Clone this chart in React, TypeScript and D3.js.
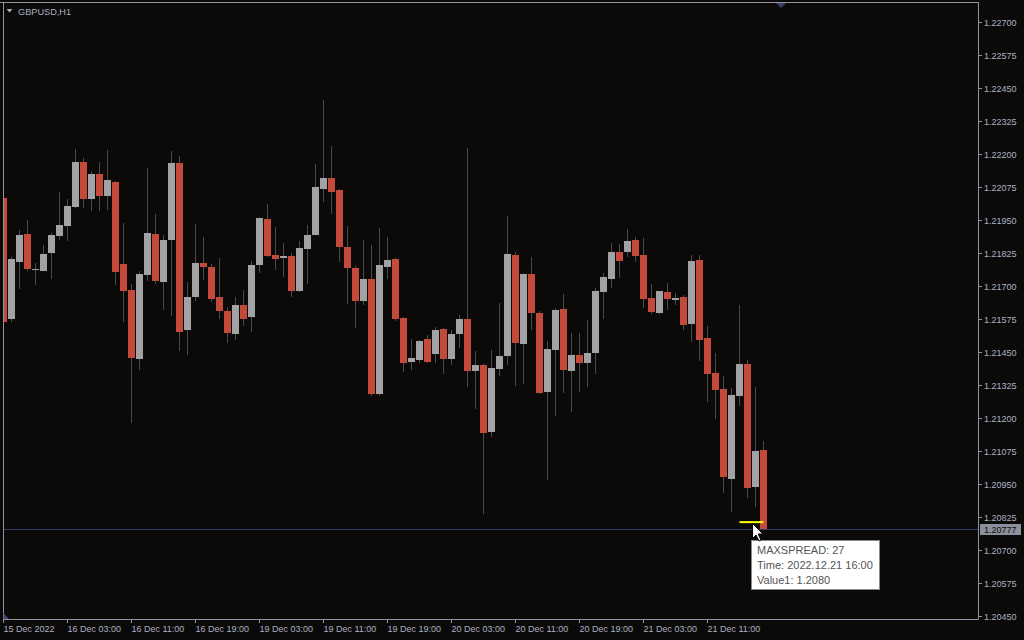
import React, { useEffect, useRef } from 'react';
import * as d3 from 'd3';

// GBPUSD H1 candles (oldest first)
const opens = [
  1.22035, 1.21576, 1.21793, 1.21899, 1.21765, 1.21759, 1.21828, 1.21892, 1.21930, 1.22002,
  1.22172, 1.22033, 1.22126, 1.22044, 1.22096, 1.21785, 1.21686, 1.21426, 1.21744, 1.21899,
  1.21718, 1.21877, 1.22168, 1.21536, 1.21661, 1.21789, 1.21773, 1.21660, 1.21607, 1.21519,
  1.21629, 1.21584, 1.21781, 1.21956, 1.21819, 1.21806, 1.21815, 1.21682, 1.21842, 1.21895,
  1.22069, 1.22111, 1.22066, 1.21849, 1.21770, 1.21645, 1.21728, 1.21292, 1.21773, 1.21804,
  1.21580, 1.21413, 1.21421, 1.21501, 1.21444, 1.21539, 1.21425, 1.21519, 1.21576, 1.21379,
  1.21402, 1.21148, 1.21386, 1.21436, 1.21819, 1.21482, 1.21747, 1.21599, 1.21300, 1.21459,
  1.21614, 1.21379, 1.21440, 1.21409, 1.21447, 1.21679, 1.21728, 1.21830, 1.21830, 1.21876,
  1.21819, 1.21656, 1.21599, 1.21679, 1.21648, 1.21660, 1.21557, 1.21800, 1.21504, 1.21372,
  1.21311, 1.20970, 1.21284, 1.21406, 1.20939, 1.21079,
];
const highs = [
  1.22088, 1.21813, 1.21914, 1.21952, 1.21789, 1.21856, 1.21901, 1.22058, 1.22030, 1.22221,
  1.22187, 1.22136, 1.22172, 1.22217, 1.22100, 1.21940, 1.21709, 1.21758, 1.22149, 1.21975,
  1.21895, 1.22213, 1.22195, 1.21717, 1.21937, 1.21887, 1.21785, 1.21808, 1.21622, 1.21660,
  1.21686, 1.21796, 1.21963, 1.22012, 1.21925, 1.21865, 1.21827, 1.21872, 1.21933, 1.22164,
  1.22407, 1.22232, 1.22068, 1.21929, 1.21777, 1.21876, 1.21857, 1.21921, 1.21887, 1.21808,
  1.21584, 1.21501, 1.21497, 1.21516, 1.21546, 1.21541, 1.21535, 1.21591, 1.22225, 1.21455,
  1.21404, 1.21459, 1.21637, 1.21967, 1.21830, 1.21751, 1.21811, 1.21607, 1.21493, 1.21618,
  1.21671, 1.21524, 1.21524, 1.21573, 1.21694, 1.21751, 1.21865, 1.21861, 1.21918, 1.21887,
  1.21884, 1.21709, 1.21684, 1.21713, 1.21675, 1.21667, 1.21819, 1.21819, 1.21550, 1.21447,
  1.21360, 1.21315, 1.21629, 1.21421, 1.21318, 1.21113,
];
const lows = [
  1.21547, 1.21566, 1.21691, 1.21759, 1.21706, 1.21757, 1.21729, 1.21877, 1.21873, 1.21997,
  1.21997, 1.21987, 1.21987, 1.21991, 1.21706, 1.21566, 1.21183, 1.21384, 1.21722, 1.21710,
  1.21612, 1.21589, 1.21456, 1.21441, 1.21646, 1.21724, 1.21641, 1.21576, 1.21485, 1.21497,
  1.21550, 1.21527, 1.21751, 1.21811, 1.21762, 1.21736, 1.21660, 1.21679, 1.21709, 1.21893,
  1.22020, 1.21975, 1.21792, 1.21633, 1.21542, 1.21629, 1.21284, 1.21284, 1.21728, 1.21569,
  1.21375, 1.21383, 1.21409, 1.21411, 1.21411, 1.21368, 1.21402, 1.21466, 1.21318, 1.21235,
  1.20837, 1.21129, 1.21360, 1.21402, 1.21322, 1.21330, 1.21535, 1.21292, 1.20966, 1.21208,
  1.21296, 1.21224, 1.21300, 1.21318, 1.21368, 1.21576, 1.21694, 1.21732, 1.21811, 1.21792,
  1.21618, 1.21595, 1.21595, 1.21610, 1.21629, 1.21535, 1.21489, 1.21417, 1.21261, 1.21197,
  1.20917, 1.20845, 1.21246, 1.20898, 1.20864, 1.20777,
];
const closes = [
  1.21566, 1.21804, 1.21895, 1.21766, 1.21767, 1.21823, 1.21895, 1.21933, 1.22005, 1.22172,
  1.22033, 1.22126, 1.22044, 1.22103, 1.21756, 1.21684, 1.21430, 1.21747, 1.21902, 1.21722,
  1.21876, 1.22168, 1.21528, 1.21660, 1.21789, 1.21773, 1.21652, 1.21607, 1.21523, 1.21629,
  1.21576, 1.21781, 1.21959, 1.21815, 1.21804, 1.21815, 1.21682, 1.21846, 1.21895, 1.22077,
  1.22111, 1.22058, 1.21849, 1.21770, 1.21645, 1.21728, 1.21292, 1.21781, 1.21800, 1.21576,
  1.21409, 1.21428, 1.21493, 1.21413, 1.21535, 1.21425, 1.21519, 1.21576, 1.21379, 1.21402,
  1.21144, 1.21390, 1.21436, 1.21823, 1.21485, 1.21747, 1.21599, 1.21296, 1.21463, 1.21610,
  1.21383, 1.21440, 1.21409, 1.21447, 1.21682, 1.21736, 1.21830, 1.21796, 1.21872, 1.21815,
  1.21652, 1.21603, 1.21682, 1.21652, 1.21656, 1.21554, 1.21796, 1.21497, 1.21368, 1.21307,
  1.20977, 1.21288, 1.21406, 1.20936, 1.21076, 1.20777,
];

// time axis labels, one every 8 bars
const timeLabels = [
  "15 Dec 2022", "16 Dec 03:00", "16 Dec 11:00", "16 Dec 19:00", "19 Dec 03:00", "19 Dec 11:00",
  "19 Dec 19:00", "20 Dec 03:00", "20 Dec 11:00", "20 Dec 19:00", "21 Dec 03:00", "21 Dec 11:00",
];
const labelEvery = 8;

const priceTicks = [
  1.22700, 1.22575, 1.22450, 1.22325, 1.22200, 1.22075, 1.21950, 1.21825, 1.21700, 1.21575,
  1.21450, 1.21325, 1.21200, 1.21075, 1.20950, 1.20825, 1.20700, 1.20575, 1.20450,
];

// MAXSPREAD indicator (last bars) and tooltip content
const spreadStart = 92;
const spreadValues = [1.20806, 1.20806, 1.20806, 1.20806];
const tooltipLines = ["MAXSPREAD: 27", "Time: 2022.12.21 16:00", "Value1: 1.2080"];

const BG = "#0c0a09";
const FRAME = "#8c94a3";
const TEXT = "#aab2c2";
const UP = "#a0a2a4";
const DOWN = "#c44b3c";
const WICK = "#4a4a4a";
const FONT = "'Liberation Sans', Arial, sans-serif";

const App: React.FC = () => {
  const svgRef = useRef<SVGSVGElement>(null);

  useEffect(() => {
    if (!svgRef.current) return;
    const width = 1024;
    const height = 640;
    const plot = { left: 3, top: 2, right: 978, bottom: 619 };

    const svg = d3.select(svgRef.current);
    svg.selectAll("*").remove();
    svg.attr("width", width).attr("height", height);

    svg.append("rect").attr("width", width).attr("height", height).attr("fill", BG);

    const x = d3.scaleLinear().domain([0, opens.length - 1]).range([3.5, 3.5 + 8 * (opens.length - 1)]);
    const y = d3.scaleLinear().domain([1.20450, 1.22700]).range([616, 22.7]);
    const crisp = (v: number) => Math.floor(v) + 0.5;

    svg.append("defs").append("clipPath").attr("id", "plotClip")
      .append("rect")
      .attr("x", plot.left + 1).attr("y", plot.top + 1)
      .attr("width", plot.right - plot.left - 1).attr("height", plot.bottom - plot.top - 1);

    const g = svg.append("g").attr("clip-path", "url(#plotClip)");

    const idx = d3.range(opens.length);

    // wicks
    g.selectAll(".wick").data(idx).enter().append("line")
      .attr("x1", i => x(i)).attr("x2", i => x(i))
      .attr("y1", i => Math.round(y(highs[i])))
      .attr("y2", i => Math.round(y(lows[i])))
      .attr("stroke", WICK).attr("stroke-width", 1);

    // bodies
    g.selectAll(".body").data(idx).enter().append("rect")
      .attr("x", i => x(i) - 3.5)
      .attr("width", 7)
      .attr("y", i => Math.round(y(Math.max(opens[i], closes[i]))))
      .attr("height", i => Math.max(1, Math.round(y(Math.min(opens[i], closes[i]))) - Math.round(y(Math.max(opens[i], closes[i])))))
      .attr("fill", i => (closes[i] >= opens[i] ? UP : DOWN));

    // current price line
    const last = closes[closes.length - 1];
    const py = crisp(y(last));
    svg.append("line")
      .attr("x1", plot.left).attr("x2", plot.right)
      .attr("y1", py).attr("y2", py)
      .attr("stroke", "#323a70").attr("stroke-width", 1);

    // maxspread line
    const spreadLine = d3.line<number>()
      .x((_, k) => x(spreadStart + k))
      .y(d => y(d));
    g.append("path")
      .attr("d", spreadLine(spreadValues) || "")
      .attr("fill", "none").attr("stroke", "#ffff00").attr("stroke-width", 2);

    // frame
    const frame = svg.append("g").attr("stroke", FRAME).attr("stroke-width", 1);
    frame.append("line").attr("x1", 0).attr("x2", plot.right + 0.5).attr("y1", plot.top + 0.5).attr("y2", plot.top + 0.5);
    frame.append("line").attr("x1", plot.left + 0.5).attr("x2", plot.left + 0.5).attr("y1", plot.top).attr("y2", plot.bottom + 0.5);
    frame.append("line").attr("x1", plot.right + 0.5).attr("x2", plot.right + 0.5).attr("y1", plot.top).attr("y2", plot.bottom + 0.5);
    frame.append("line").attr("x1", plot.left).attr("x2", plot.right + 0.5).attr("y1", plot.bottom + 0.5).attr("y2", plot.bottom + 0.5);

    // price axis
    const yAxis = svg.append("g");
    priceTicks.forEach(t => {
      const ty = crisp(y(t));
      yAxis.append("line").attr("x1", plot.right).attr("x2", plot.right + 4)
        .attr("y1", ty).attr("y2", ty).attr("stroke", FRAME);
      yAxis.append("text").attr("x", plot.right + 6).attr("y", ty + 3.5)
        .attr("fill", TEXT).attr("font-family", FONT).attr("font-size", 9)
        .text(d3.format(".5f")(t));
    });

    // price tag
    const tagY = Math.floor(y(last)) - 5;
    svg.append("rect").attr("x", 980).attr("y", tagY).attr("width", 41).attr("height", 11).attr("fill", "#8b909c");
    svg.append("text").attr("x", 984).attr("y", tagY + 8.5)
      .attr("fill", "#0c0c0c").attr("font-family", FONT).attr("font-size", 9)
      .text(d3.format(".5f")(last));

    // time axis
    const xAxis = svg.append("g");
    timeLabels.forEach((lab, k) => {
      const tx = x(k * labelEvery);
      xAxis.append("line").attr("x1", tx).attr("x2", tx)
        .attr("y1", plot.bottom).attr("y2", plot.bottom + 4).attr("stroke", FRAME);
      xAxis.append("text").attr("x", tx).attr("y", 632)
        .attr("fill", TEXT).attr("font-family", FONT).attr("font-size", 9)
        .text(lab);
    });

    // small markers
    svg.append("path").attr("d", "M3.5,613 L9,619 L3.5,619 Z").attr("fill", "#3c4274");
    svg.append("path").attr("d", "M776,3 L786,3 L781,8 Z").attr("fill", "#3a4062");

    // title
    svg.append("path").attr("d", "M6.5,9 L12.5,9 L9.5,12.5 Z").attr("fill", TEXT);
    svg.append("text").attr("x", 18).attr("y", 14.5)
      .attr("fill", TEXT).attr("font-family", FONT).attr("font-size", 9.2)
      .text("GBPUSD,H1");

    // tooltip
    const tip = svg.append("g");
    tip.append("rect").attr("x", 751.5).attr("y", 540.5).attr("width", 128).attr("height", 49)
      .attr("fill", "#ffffff").attr("stroke", "#8a8a8a");
    tooltipLines.forEach((line, k) => {
      tip.append("text").attr("x", 757).attr("y", 553.5 + k * 15)
        .attr("fill", "#555555").attr("font-family", FONT).attr("font-size", 11)
        .text(line);
    });

    // mouse cursor
    svg.append("path")
      .attr("d", "M752.5,523.5 L752.5,538.5 L756,535 L759,541 L761,540 L758.2,534 L763,534 Z")
      .attr("fill", "#ffffff").attr("stroke", "#000000").attr("stroke-width", 1);
  }, []);

  return (
    <div style={{ position: 'fixed', left: 0, top: 0, width: 1024, height: 640, background: BG }}>
      <svg ref={svgRef} style={{ display: 'block' }} />
    </div>
  );
};

export default App;
